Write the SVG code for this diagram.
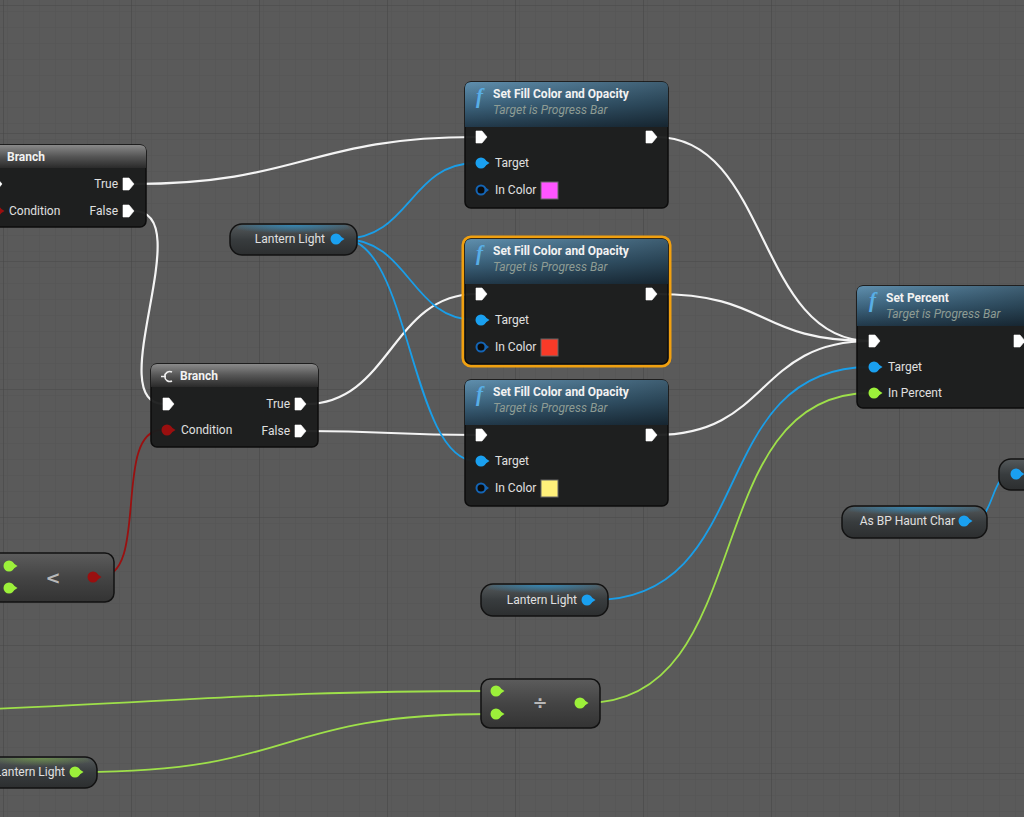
<svg xmlns="http://www.w3.org/2000/svg" width="1024" height="817" viewBox="0 0 1024 817">
<defs>
<pattern id="minor" width="16" height="16" patternUnits="userSpaceOnUse" x="4" y="6">
<path d="M16 0 V16 M0 16 H16" stroke="#535353" stroke-width="1" fill="none"/>
</pattern>
<pattern id="major" width="128" height="128" patternUnits="userSpaceOnUse" x="4" y="6">
<rect width="128" height="128" fill="url(#minor)"/>
<path d="M128 0 V128 M0 128 H128" stroke="#474747" stroke-width="1.2" fill="none"/>
</pattern>
<linearGradient id="fnHead" x1="0" y1="0" x2="0" y2="1">
<stop offset="0" stop-color="#5f8fae"/>
<stop offset="0.5" stop-color="#3e6680"/>
<stop offset="1" stop-color="#22394a"/>
</linearGradient>
<linearGradient id="fnHeadH" x1="0" y1="0" x2="1" y2="0">
<stop offset="0" stop-color="#000" stop-opacity="0"/>
<stop offset="1" stop-color="#000" stop-opacity="0.35"/>
</linearGradient>
<linearGradient id="brHead" x1="0" y1="0" x2="0" y2="1">
<stop offset="0" stop-color="#8a8a8a"/>
<stop offset="0.5" stop-color="#555"/>
<stop offset="1" stop-color="#2a2a2a"/>
</linearGradient>
<linearGradient id="pill" x1="0" y1="0" x2="0" y2="1">
<stop offset="0" stop-color="#555a5c"/>
<stop offset="0.5" stop-color="#383c3e"/>
<stop offset="1" stop-color="#2c2e2f"/>
</linearGradient>
<radialGradient id="blueGlow" cx="0.5" cy="0" r="0.6">
<stop offset="0" stop-color="#2a9ad8" stop-opacity="0.7"/>
<stop offset="1" stop-color="#2a9ad8" stop-opacity="0"/>
</radialGradient>
<radialGradient id="greenGlow" cx="0.5" cy="0" r="0.6">
<stop offset="0" stop-color="#8acc40" stop-opacity="0.45"/>
<stop offset="1" stop-color="#8acc40" stop-opacity="0"/>
</radialGradient>
<linearGradient id="mathG" x1="0" y1="0" x2="0" y2="1">
<stop offset="0" stop-color="#5c5c5c"/>
<stop offset="0.5" stop-color="#444"/>
<stop offset="1" stop-color="#333"/>
</linearGradient>
<symbol id="exec" overflow="visible"><path d="M-5,-6 H1 L6,0 L1,6 H-5 Z" fill="#fff" stroke="#fff" stroke-width="0.6" stroke-linejoin="round"/></symbol>
<symbol id="pinBlue" overflow="visible"><circle r="5.5" fill="#1aa0f0"/><path d="M4,-3 L8.5,0 L4,3 Z" fill="#1aa0f0"/></symbol>
<symbol id="pinBlueHollow" overflow="visible"><circle r="4.5" fill="#0b0b0b" stroke="#1464b4" stroke-width="2"/><path d="M4,-3 L8,0 L4,3 Z" fill="#1464b4"/></symbol>
<symbol id="pinGreen" overflow="visible"><circle r="5.5" fill="#9cf03a"/><path d="M4,-3 L8.5,0 L4,3 Z" fill="#9cf03a"/></symbol>
<symbol id="pinRed" overflow="visible"><circle r="5.5" fill="#9a0f0f"/><path d="M4,-3 L8.5,0 L4,3 Z" fill="#9a0f0f"/></symbol>
</defs>
<style>
.lbl{font-family:Roboto,"Liberation Sans",sans-serif;font-size:12px;fill:#e0e0e0}
.ttl{font-family:Roboto,"Liberation Sans",sans-serif;font-size:12px;font-weight:bold;fill:#f2f2f2}
.sub{font-family:Roboto,"Liberation Sans",sans-serif;font-size:12px;font-style:italic;fill:#8e9c94}
.fic{font-family:"Liberation Serif",serif;font-size:21px;font-style:italic;font-weight:bold;fill:#58aee6}
.body{fill:#1c1d1d;fill-opacity:0.96;stroke:#0c0c0c;stroke-width:1.5}
.exw{fill:none;stroke:#f4f4f4;stroke-width:2.2}
.blu{fill:none;stroke:#1a9ee8;stroke-width:1.8}
.grn{fill:none;stroke:#9ee04a;stroke-width:1.8}
.red{fill:none;stroke:#9a1010;stroke-width:1.8}
.pillr{fill:url(#pill);stroke:#121212;stroke-width:1.5}
.sym{font-family:"DejaVu Sans",sans-serif;font-size:18px;font-weight:bold;fill:#b8b8b8}
</style>
<rect width="1024" height="817" fill="#5a5a5a"/>
<rect width="1024" height="817" fill="url(#major)"/>

<g id="connectors">
<path class="exw" d="M134,184 C300,184 310,137 476,137"/>
<path class="exw" d="M134,211 C200,211 100,404 164,404"/>
<path class="exw" d="M306,404 C390,404 392,294 476,294"/>
<path class="exw" d="M306,431 C390,431 392,435 476,435"/>
<path class="exw" d="M656,137 C770,137 756,341 870,341"/>
<path class="exw" d="M656,294 C770,294 756,341 870,341"/>
<path class="exw" d="M656,435 C770,435 756,341 870,341"/>
<path class="blu" d="M343,239 C410,239 410,163 476,163"/>
<path class="blu" d="M343,239 C410,239 410,320 476,320"/>
<path class="blu" d="M343,239 C410,239 410,461 476,461"/>
<path class="blu" d="M594,600 C760,600 704,367 870,367"/>
<path class="blu" d="M971,521 C995,521 990,474 1012,474"/>
<path class="red" d="M100,577 C150,577 112,430 162,430"/>
<path class="grn" d="M586,703 C760,703 696,393 870,393"/>
<path class="grn" d="M-10,709 C200,700 280,691 492,691"/>
<path class="grn" d="M81,772 C300,772 272,714 492,714"/>
<path class="grn" d="M-10,566 H5"/>
<path class="grn" d="M-10,588 H5"/>
</g>

<g id="branch1">
<rect class="body" x="-12" y="145" width="158" height="82" rx="6"/>
<path d="M-12,168 V151 Q-12,145 -6,145 H140 Q146,145 146,151 V168 Z" fill="url(#brHead)"/>
<text class="ttl" x="7" y="161">Branch</text>
<path d="M-1,156 V164" stroke="#eee" stroke-width="2"/>
<use href="#exec" x="-4" y="184"/>
<use href="#pinRed" x="-4" y="211"/>
<text class="lbl" x="9" y="215">Condition</text>
<text class="lbl" x="118" y="188" text-anchor="end">True</text>
<use href="#exec" x="128" y="184"/>
<text class="lbl" x="118" y="215" text-anchor="end">False</text>
<use href="#exec" x="128" y="211"/>
</g>

<g id="branch2">
<rect class="body" x="151" y="364" width="167" height="83" rx="6"/>
<path d="M151,387 V370 Q151,364 157,364 H312 Q318,364 318,370 V387 Z" fill="url(#brHead)"/>
<path d="M172,372 A5,5 0 1 0 172,381 M166,376.5 H161" stroke="#eee" stroke-width="1.6" fill="none"/>
<text class="ttl" x="180" y="380">Branch</text>
<use href="#exec" x="168" y="404"/>
<use href="#pinRed" x="167" y="430"/>
<text class="lbl" x="181" y="434">Condition</text>
<text class="lbl" x="290" y="408" text-anchor="end">True</text>
<use href="#exec" x="300" y="404"/>
<text class="lbl" x="290" y="435" text-anchor="end">False</text>
<use href="#exec" x="300" y="431"/>
</g>

<g id="setfill1">
<rect class="body" x="465" y="82" width="203" height="126" rx="6"/>
<path d="M465,127 V88 Q465,82 471,82 H662 Q668,82 668,88 V127 Z" fill="url(#fnHead)"/>
<path d="M465,127 V88 Q465,82 471,82 H662 Q668,82 668,88 V127 Z" fill="url(#fnHeadH)"/>
<text class="fic" x="476" y="103">f</text>
<text class="ttl" x="493" y="98">Set Fill Color and Opacity</text>
<text class="sub" x="493" y="114">Target is Progress Bar</text>
<use href="#exec" x="481" y="137"/>
<use href="#exec" x="651" y="137"/>
<use href="#pinBlue" x="481" y="163"/>
<text class="lbl" x="495" y="167">Target</text>
<use href="#pinBlueHollow" x="481" y="190"/>
<text class="lbl" x="495" y="194">In Color</text>
<rect x="541" y="182" width="17" height="17" fill="#ff55ff" stroke="#666" stroke-width="1"/>
</g>

<g id="setfill2">
<rect x="463" y="237" width="207" height="129" rx="8" fill="none" stroke="#f0a010" stroke-width="3"/>
<rect class="body" x="465" y="239" width="203" height="125" rx="6"/>
<path d="M465,284 V245 Q465,239 471,239 H662 Q668,239 668,245 V284 Z" fill="url(#fnHead)"/>
<path d="M465,284 V245 Q465,239 471,239 H662 Q668,239 668,245 V284 Z" fill="url(#fnHeadH)"/>
<text class="fic" x="476" y="260">f</text>
<text class="ttl" x="493" y="255">Set Fill Color and Opacity</text>
<text class="sub" x="493" y="271">Target is Progress Bar</text>
<use href="#exec" x="481" y="294"/>
<use href="#exec" x="651" y="294"/>
<use href="#pinBlue" x="481" y="320"/>
<text class="lbl" x="495" y="324">Target</text>
<use href="#pinBlueHollow" x="481" y="347"/>
<text class="lbl" x="495" y="351">In Color</text>
<rect x="541" y="339" width="17" height="17" fill="#f83a28" stroke="#666" stroke-width="1"/>
</g>

<g id="setfill3">
<rect class="body" x="465" y="380" width="203" height="126" rx="6"/>
<path d="M465,425 V386 Q465,380 471,380 H662 Q668,380 668,386 V425 Z" fill="url(#fnHead)"/>
<path d="M465,425 V386 Q465,380 471,380 H662 Q668,380 668,386 V425 Z" fill="url(#fnHeadH)"/>
<text class="fic" x="476" y="401">f</text>
<text class="ttl" x="493" y="396">Set Fill Color and Opacity</text>
<text class="sub" x="493" y="412">Target is Progress Bar</text>
<use href="#exec" x="481" y="435"/>
<use href="#exec" x="651" y="435"/>
<use href="#pinBlue" x="481" y="461"/>
<text class="lbl" x="495" y="465">Target</text>
<use href="#pinBlueHollow" x="481" y="488"/>
<text class="lbl" x="495" y="492">In Color</text>
<rect x="541" y="480" width="17" height="17" fill="#fff07a" stroke="#666" stroke-width="1"/>
</g>

<g id="setpercent">
<rect class="body" x="857" y="286" width="175" height="122" rx="6"/>
<path d="M857,326 V292 Q857,286 863,286 H1026 Q1032,286 1032,292 V326 Z" fill="url(#fnHead)"/>
<path d="M857,326 V292 Q857,286 863,286 H1026 Q1032,286 1032,292 V326 Z" fill="url(#fnHeadH)"/>
<text class="fic" x="869" y="307">f</text>
<text class="ttl" x="886" y="302">Set Percent</text>
<text class="sub" x="886" y="318">Target is Progress Bar</text>
<use href="#exec" x="874" y="341"/>
<use href="#exec" x="1019" y="341"/>
<use href="#pinBlue" x="874" y="367"/>
<text class="lbl" x="888" y="371">Target</text>
<use href="#pinGreen" x="874" y="393"/>
<text class="lbl" x="888" y="397">In Percent</text>
</g>

<g id="lantern1">
<rect class="pillr" x="230" y="224" width="127" height="31" rx="12"/>
<rect x="236" y="225" width="115" height="14" rx="7" fill="url(#blueGlow)"/>
<text class="lbl" x="325" y="243" text-anchor="end">Lantern Light</text>
<use href="#pinBlue" x="336" y="239"/>
</g>

<g id="lantern2">
<rect class="pillr" x="481" y="584" width="127" height="32" rx="12"/>
<rect x="487" y="585" width="115" height="14" rx="7" fill="url(#blueGlow)"/>
<text class="lbl" x="577" y="604" text-anchor="end">Lantern Light</text>
<use href="#pinBlue" x="587" y="600"/>
</g>

<g id="lantern3">
<rect class="pillr" x="-14" y="757" width="111" height="31" rx="12"/>
<rect x="-8" y="758" width="99" height="14" rx="7" fill="url(#greenGlow)"/>
<text class="lbl" x="65" y="776" text-anchor="end">Lantern Light</text>
<use href="#pinGreen" x="75" y="772"/>
</g>

<g id="asbp">
<rect class="pillr" x="842" y="506" width="145" height="32" rx="12"/>
<rect x="848" y="507" width="133" height="14" rx="7" fill="url(#blueGlow)"/>
<text class="lbl" x="955" y="525" text-anchor="end">As BP Haunt Char</text>
<use href="#pinBlue" x="964" y="521"/>
</g>

<g id="partial">
<rect class="pillr" x="999" y="459" width="40" height="31" rx="12"/>
<use href="#pinBlue" x="1016" y="474"/>
</g>

<g id="less">
<rect x="-14" y="553" width="128" height="49" rx="9" fill="url(#mathG)" stroke="#121212" stroke-width="1.5"/>
<use href="#pinGreen" x="9" y="566"/>
<use href="#pinGreen" x="9" y="588"/>
<text class="sym" x="53" y="584" text-anchor="middle">&lt;</text>
<use href="#pinRed" x="93" y="577"/>
</g>

<g id="divide">
<rect x="481" y="679" width="119" height="49" rx="9" fill="url(#mathG)" stroke="#121212" stroke-width="1.5"/>
<use href="#pinGreen" x="496" y="691"/>
<use href="#pinGreen" x="496" y="714"/>
<text class="sym" x="540" y="709" text-anchor="middle">÷</text>
<use href="#pinGreen" x="580" y="703"/>
</g>
</svg>
